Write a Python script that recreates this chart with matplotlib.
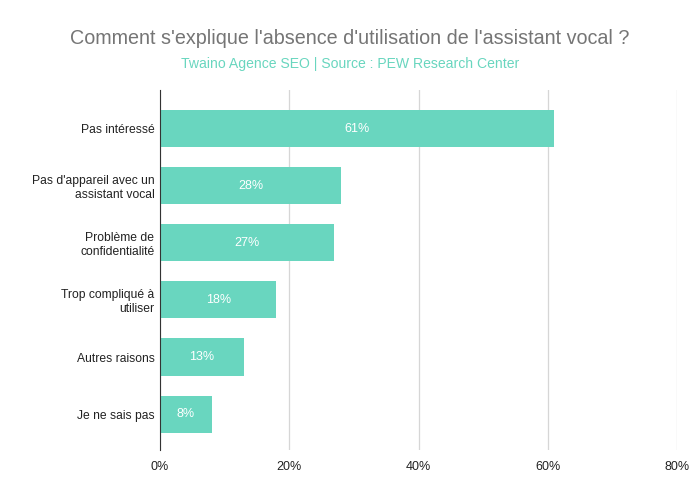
import matplotlib
matplotlib.use("Agg")
import matplotlib.pyplot as plt
from matplotlib.ticker import FuncFormatter

plt.rcParams['font.family'] = ['Liberation Sans', 'DejaVu Sans']

categories = ["Pas intéressé", "Pas d'appareil avec un\nassistant vocal",
              "Problème de\nconfidentialité", "Trop compliqué à\nutiliser",
              "Autres raisons", "Je ne sais pas"]
values = [61, 28, 27, 18, 13, 8]
xticks = [0, 20, 40, 60, 80]

bar_color = "#69d6bf"

fig = plt.figure(figsize=(7, 4.98), dpi=100)
ax = fig.add_axes([160/700, 1-450/498, (677-160)/700, (450-90)/498])

pos = list(range(len(categories)))
bars = ax.barh(pos, values, height=0.65, color=bar_color, zorder=3)
for p, v in zip(pos, values):
    ax.text(v/2, p, f"{v}%", ha="center", va="center", color="white", fontsize=9, zorder=4)

ax.set_ylim(5.63, -0.68)
ax.set_xlim(0, 80)
ax.set_xticks(xticks)
ax.xaxis.set_major_formatter(FuncFormatter(lambda x, _: f"{int(x)}%"))
ax.set_yticks(pos)
ax.set_yticklabels(categories, fontsize=8.7, color="#222222")
ax.tick_params(axis="x", length=0, labelsize=9, labelcolor="#222222", pad=8)
ax.tick_params(axis="y", length=0, pad=4)
ax.grid(axis="x", color="#d6d6d6", linewidth=0.9, zorder=0)
for s in ["top", "right", "bottom"]:
    ax.spines[s].set_visible(False)
ax.spines["left"].set_color("#333333")
ax.spines["left"].set_zorder(5)

fig.text(0.5, 1-38/498, "Comment s'explique l'absence d'utilisation de l'assistant vocal ?",
         ha="center", va="center", fontsize=14.25, color="#757575")
fig.text(0.5, 1-64/498, "Twaino Agence SEO | Source : PEW Research Center",
         ha="center", va="center", fontsize=10.1, color="#69d6bf")

fig.savefig("out.png", dpi=100)
